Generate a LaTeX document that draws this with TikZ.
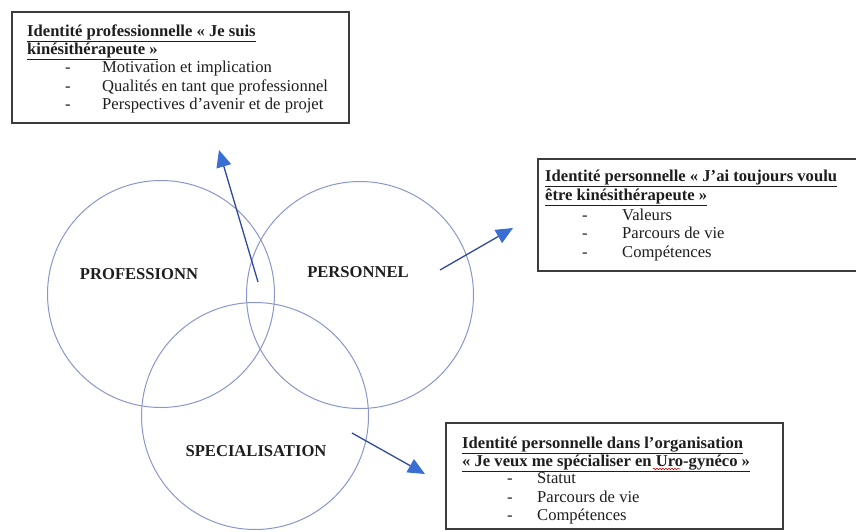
\documentclass[tikz,border=0pt]{standalone}
\usepackage{fontspec}
\setmainfont{Liberation Serif}
\usetikzlibrary{arrows.meta,decorations.pathmorphing}
\definecolor{ring}{HTML}{8A96CC}
\definecolor{shaft}{HTML}{2E4A9E}
\definecolor{tipblue}{HTML}{3A6ED2}
\definecolor{ink}{HTML}{1E1E1E}
\definecolor{frame}{HTML}{3C3C3C}
\tikzset{
  ring/.style={draw=ring, line width=1pt},
  panel/.style={draw=frame, line width=1.3pt, fill=white},
  txt/.style={inner sep=0pt, anchor=base west, text=ink,
    font=\fontsize{16.6}{18.3}\selectfont},
  head/.style={txt, font=\fontsize{16.6}{18.3}\selectfont\bfseries},
  bullet/.style={txt, anchor=base},
  tag/.style={inner sep=0pt, anchor=base, text=ink,
    font=\fontsize{16.6}{18.3}\selectfont\bfseries},
  link/.style={draw=shaft, line width=1.3pt,
    -{Triangle[length=17pt,width=15pt,color=tipblue]}},
}
\begin{document}
\begin{tikzpicture}[x=1pt,y=-1pt]
\useasboundingbox (0,0) rectangle (856,531);

% the three overlapping circles
\draw[ring] (161,294) circle[radius=113.5];
\draw[ring] (360,295) circle[radius=113.5];
\draw[ring] (255,416) circle[radius=113.5];

\node[tag] (lpro) at (139,279) {PROFESSIONN};
\node[tag] (lper) at (358,277) {PERSONNEL};
\node[tag] (lspe) at (256,456) {SPECIALISATION};

% panel: professional identity
\draw[panel] (12,12) rectangle (349,123);
\node[head] (p1) at (27,36) {\underline{Identité professionnelle « Je suis}};
\node[head] (p2) at (27,54) {\underline{kinésithérapeute »}};
\node[bullet] (pd1) at (68,72) {-};
\node[bullet] (pd2) at (68,91) {-};
\node[bullet] (pd3) at (68,109) {-};
\node[txt] (pi1) at (102,72) {Motivation et implication};
\node[txt] (pi2) at (102,91) {Qualités en tant que professionnel};
\node[txt] (pi3) at (102,109) {Perspectives d’avenir et de projet};

% panel: personal identity (runs off the right edge)
\draw[panel] (538,159) rectangle (870,271);
\node[head] (q1) at (545,181) {\underline{Identité personnelle « J’ai toujours voulu}};
\node[head] (q2) at (545,200) {\underline{être kinésithérapeute »}};
\node[bullet] (qd1) at (585,220) {-};
\node[bullet] (qd2) at (585,238) {-};
\node[bullet] (qd3) at (585,257) {-};
\node[txt] (qi1) at (622,220) {Valeurs};
\node[txt] (qi2) at (622,238) {Parcours de vie};
\node[txt] (qi3) at (622,257) {Compétences};

% panel: identity within the organisation
\draw[panel] (446,423) rectangle (783,529);
\node[head] (s1) at (462,448) {\underline{Identité personnelle dans l’organisation}};
\node[head] (s2) at (462,466) {\underline{« Je veux me spécialiser en Uro-gynéco »}};
\draw[red!80!black, line width=0.6pt,
  decorate, decoration={snake, amplitude=0.8pt, segment length=3pt}]
  (653,469) -- (680,469);
\node[bullet] (sd1) at (510,483) {-};
\node[bullet] (sd2) at (510,502) {-};
\node[bullet] (sd3) at (510,520) {-};
\node[txt] (si1) at (537,483) {Statut};
\node[txt] (si2) at (537,502) {Parcours de vie};
\node[txt] (si3) at (537,520) {Compétences};

% arrows from the circles towards the panels
\coordinate (a1s) at (258,282);
\coordinate (a1e) at (219,150);
\coordinate (a2s) at (440,270);
\coordinate (a2e) at (513,228);
\coordinate (a3s) at (352,433);
\coordinate (a3e) at (425,474);
\draw[link] (a1s) -- (a1e);
\draw[link] (a2s) -- (a2e);
\draw[link] (a3s) -- (a3e);
\end{tikzpicture}
\end{document}
